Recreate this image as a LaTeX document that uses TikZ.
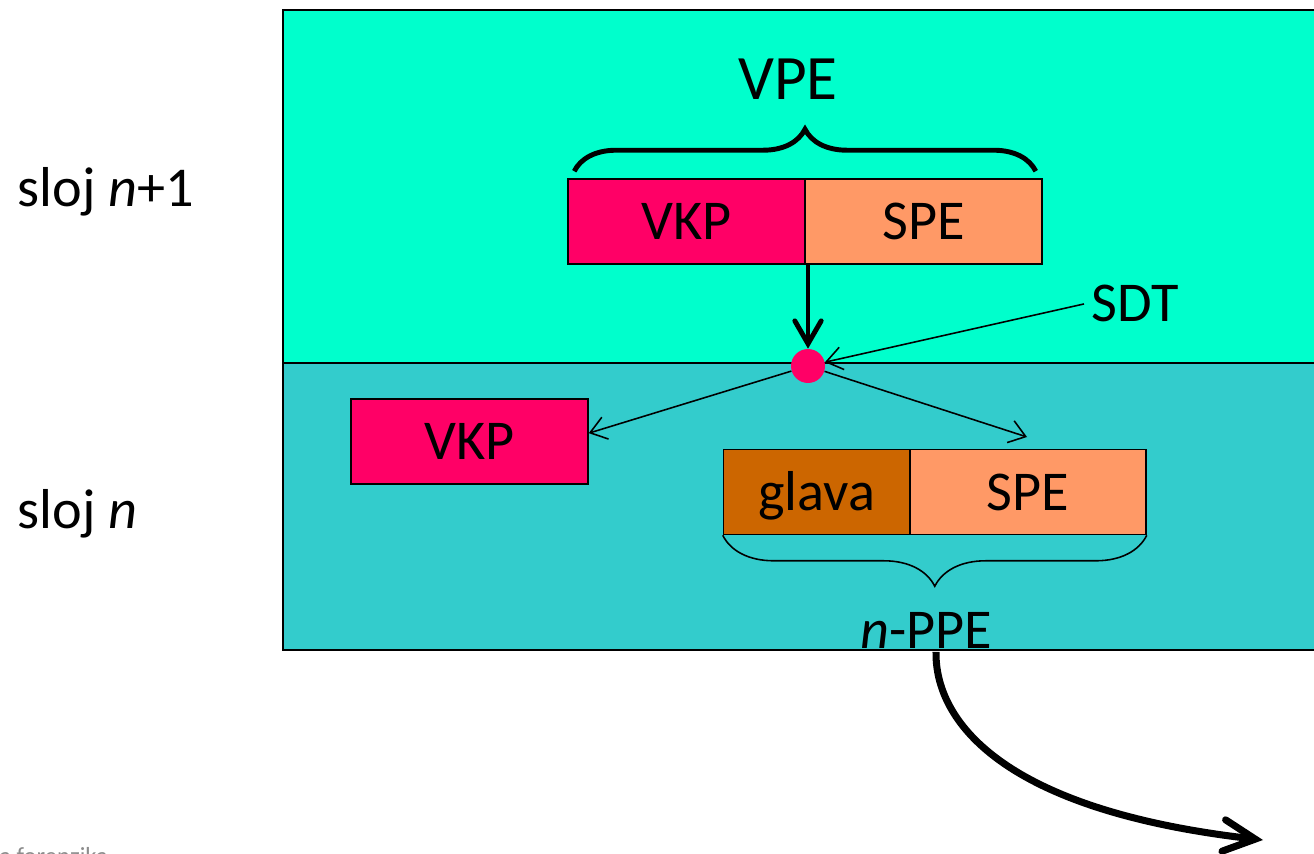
\documentclass[tikz,border=0pt]{standalone}
\usepackage{fontspec}
\setmainfont{Carlito}
\usepackage{xcolor}
\definecolor{layertop}{RGB}{0,255,204}
\definecolor{layerbot}{RGB}{51,204,204}
\definecolor{vkpred}{RGB}{255,0,102}
\definecolor{spesalmon}{RGB}{255,153,102}
\definecolor{glavabrown}{RGB}{204,102,0}
\usetikzlibrary{arrows.meta}
\usetikzlibrary{decorations.pathreplacing}
\tikzset{
  lbl/.style={inner sep=2pt, font=\fontsize{32}{38}\selectfont},
  field/.style={draw, line width=0.9pt, inner sep=0pt, minimum height=1.7cm, minimum width=4.74cm,
    text height=20.5pt, text depth=0pt, font=\fontsize{32}{38}\selectfont},
  light/.style={line width=0.9pt, -{Straight Barb[length=9pt, width=13pt]}},
  heavy/.style={line width=2.8pt, -{Straight Barb[length=13pt, width=15pt, line cap=round]}},
  heavier/.style={line width=4pt, -{Straight Barb[length=18pt, width=18pt, line cap=round]}},
}

\begin{document}
\begin{tikzpicture}[x=0.02cm, y=-0.02cm]
\useasboundingbox (0,0) rectangle (1314,854);
\filldraw[fill=layertop, line width=0.9pt] (283,10) rectangle (1325,363);
\filldraw[fill=layerbot, line width=0.9pt] (283,363) rectangle (1325,650);

\node[lbl, anchor=base west] (slojTop) at (14,207) {sloj \textit{n}+1};
\node[lbl, anchor=base west] (slojLow) at (14,528) {sloj \textit{n}};
\node[lbl, anchor=base, font=\fontsize{36}{42}\selectfont] (vpe) at (788,100) {VPE};

\node[field, fill=vkpred] (vkpTop) at (686.5,221.5) {VKP};
\node[field, fill=spesalmon] (speTop) at (923.5,221.5) {SPE};
\node[circle, fill=vkpred, minimum size=0.68cm, inner sep=0pt] (split) at (808,366) {};
\node[lbl, anchor=base west, inner sep=4pt] (sdt) at (1084,322) {SDT};

\node[field, fill=vkpred] (vkpLow) at (469.5,441.5) {VKP};
\node[field, fill=glavabrown, minimum width=3.72cm] (glava) at (816.5,492) {glava};
\node[field, fill=spesalmon, minimum width=4.72cm] (speLow) at (1028,492) {SPE};
\node[lbl, anchor=base] (ppe) at (926,648) {\textit{n}-PPE};
\coordinate (ppeIn) at (1027,437);
\coordinate (exit) at (1263,840);

\draw[line width=2.8pt, decorate, decoration={brace, amplitude=0.84cm}]
  ([xshift=0.14cm, yshift=0.14cm]vkpTop.north west) -- ([xshift=-0.14cm, yshift=0.14cm]speTop.north east);
\draw[line width=0.9pt, decorate, decoration={brace, amplitude=1.02cm}]
  (speLow.south east) -- (glava.south west);

\draw[heavy] (split |- vkpTop.south) -- (split);
\draw[light] (sdt.west) -- (split);
\draw[light] (split) -- (vkpLow.4);
\draw[light] (split) -- (ppeIn);
\draw[heavier] ([xshift=0.2cm]ppe.south) .. controls (935,720) and (1000,810) .. (exit);

\node[anchor=base west, inner sep=0pt, text=black!45, font=\fontsize{14}{16}\selectfont] (footer) at (-1,864) {a forenzika};
\end{tikzpicture}
\end{document}
